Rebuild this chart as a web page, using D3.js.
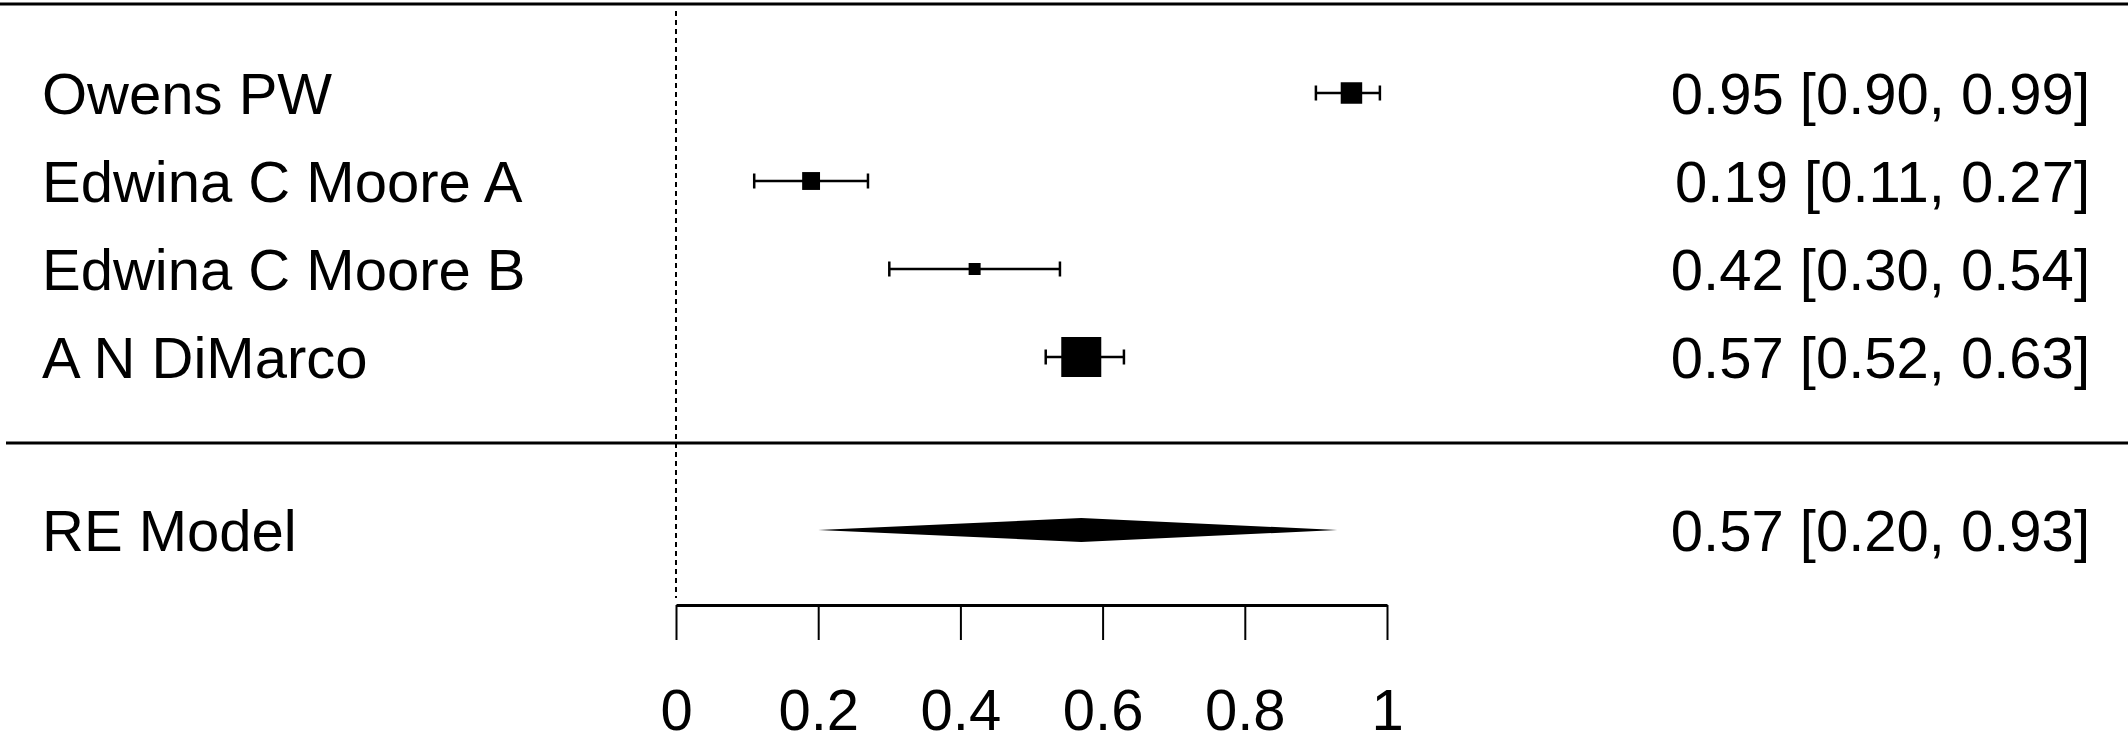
<!DOCTYPE html>
<html>
<head>
<meta charset="utf-8">
<script src="https://cdn.jsdelivr.net/npm/d3@7"></script>
<style>
  body { margin: 0; background: #fff; }
  text { font-family: "Liberation Sans", Arial, sans-serif; fill: #000; }
</style>
</head>
<body>
<script>
const studies = ['Owens PW', 'Edwina C Moore A', 'Edwina C Moore B', 'A N DiMarco'];
const estimates = [0.95, 0.19, 0.42, 0.57];
const lower = [0.90, 0.11, 0.30, 0.52];
const upper = [0.99, 0.27, 0.54, 0.63];
const weights = [24.7, 23.9, 22.6, 28.8];
const summaryLabel = 'RE Model';
const summary = [0.57, 0.20, 0.93]; // est, lb, ub
const ticks = [0, 0.2, 0.4, 0.6, 0.8, 1];

const width = 2128;
const height = 744;
const fs = 58;

const svg = d3.select('body').append('svg')
  .attr('width', width)
  .attr('height', height);

const x = d3.scaleLinear().domain([0, 1]).range([676, 1387]);
// rows: k..1 for studies, -1 for summary
const y = d3.scaleLinear().domain([0, 4]).range([445, 93]);
const sizeScale = d3.scaleLinear().domain(d3.extent(weights)).range([12, 40]);
const fmt = d3.format('.2f');

const rows = studies.map((s, i) => ({
  name: s, est: estimates[i], lb: lower[i], ub: upper[i], w: weights[i], row: studies.length - i
}));

// horizontal rules
svg.append('line')
  .attr('x1', 0).attr('x2', width)
  .attr('y1', y(5) - 1).attr('y2', y(5) - 1)
  .attr('stroke', '#000').attr('stroke-width', 3);
svg.append('line')
  .attr('x1', 6).attr('x2', width)
  .attr('y1', y(0) - 2).attr('y2', y(0) - 2)
  .attr('stroke', '#000').attr('stroke-width', 3);

// reference line at 0
svg.append('line')
  .attr('x1', x(0)).attr('x2', x(0))
  .attr('y1', 11).attr('y2', 598)
  .attr('stroke', '#000').attr('stroke-width', 2)
  .attr('stroke-dasharray', '5,4');

const g = svg.append('g');

// whiskers
g.selectAll('.ci')
  .data(rows)
  .enter().append('line')
    .attr('class', 'ci')
    .attr('x1', d => x(d.lb)).attr('x2', d => x(d.ub))
    .attr('y1', d => y(d.row)).attr('y2', d => y(d.row))
    .attr('stroke', '#000').attr('stroke-width', 2.5);

g.selectAll('.capl')
  .data(rows.flatMap(d => [{ v: d.lb, row: d.row }, { v: d.ub, row: d.row }]))
  .enter().append('line')
    .attr('class', 'capl')
    .attr('x1', d => x(d.v)).attr('x2', d => x(d.v))
    .attr('y1', d => y(d.row) - 7.5).attr('y2', d => y(d.row) + 7.5)
    .attr('stroke', '#000').attr('stroke-width', 2.5);

g.selectAll('.box')
  .data(rows)
  .enter().append('rect')
    .attr('class', 'box')
    .attr('x', d => x(d.est) - sizeScale(d.w) / 2)
    .attr('y', d => y(d.row) - sizeScale(d.w) / 2)
    .attr('width', d => sizeScale(d.w))
    .attr('height', d => sizeScale(d.w))
    .attr('fill', '#000');

// study labels + annotations
g.selectAll('.lab')
  .data(rows)
  .enter().append('text')
    .attr('class', 'lab')
    .attr('x', 42)
    .attr('y', d => y(d.row) + 21)
    .attr('font-size', fs)
    .text(d => d.name);

g.selectAll('.ann')
  .data(rows)
  .enter().append('text')
    .attr('class', 'ann')
    .attr('x', 2090)
    .attr('y', d => y(d.row) + 21)
    .attr('text-anchor', 'end')
    .attr('font-size', fs)
    .text(d => `${fmt(d.est)} [${fmt(d.lb)}, ${fmt(d.ub)}]`);

// summary diamond
const ys = y(-1) - 3;
svg.append('polygon')
  .attr('points', [
    [x(summary[1]), ys], [x(summary[0]), ys - 12],
    [x(summary[2]), ys], [x(summary[0]), ys + 12]
  ].map(p => p.join(',')).join(' '))
  .attr('fill', '#000');

svg.append('text')
  .attr('x', 42).attr('y', ys + 21)
  .attr('font-size', fs)
  .text(summaryLabel);

svg.append('text')
  .attr('x', 2090).attr('y', ys + 21)
  .attr('text-anchor', 'end')
  .attr('font-size', fs)
  .text(`${fmt(summary[0])} [${fmt(summary[1])}, ${fmt(summary[2])}]`);

// x axis
const axis = svg.append('g')
  .attr('transform', 'translate(0,605)')
  .call(d3.axisBottom(x).tickValues(ticks).tickFormat(d3.format('')).tickSize(35).tickSizeOuter(0).tickPadding(49));
axis.select('.domain').attr('stroke-width', 3);
axis.selectAll('.tick line').attr('stroke-width', 2);
axis.selectAll('.tick text')
  .attr('font-size', fs)
  .attr('font-family', '"Liberation Sans", Arial, sans-serif');
</script>
</body>
</html>
